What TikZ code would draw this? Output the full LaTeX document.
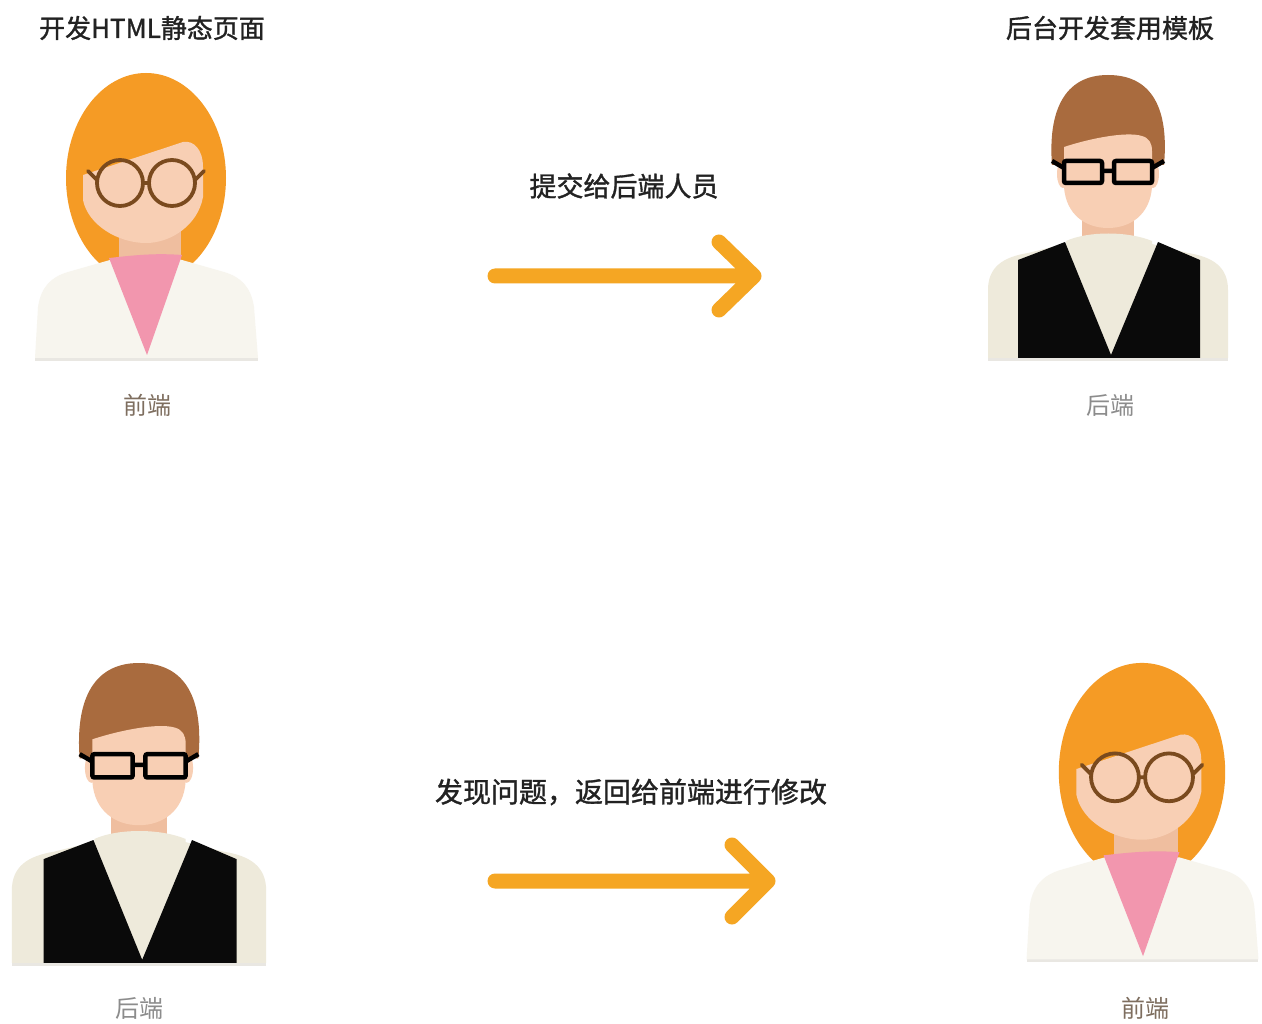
\documentclass[tikz,border=0pt]{standalone}
\usepackage{fontspec}
\setmainfont{Noto Sans CJK SC}
\newfontfamily\captionfont{Noto Sans CJK SC}[FakeBold=1.2]
\definecolor{hairO}{HTML}{F59B25}
\definecolor{hairB}{HTML}{A96B3E}
\definecolor{skin}{HTML}{F8CFB4}
\definecolor{neckC}{HTML}{EFBE9F}
\definecolor{pinkC}{HTML}{F296AE}
\definecolor{jacketW}{HTML}{F7F5EE}
\definecolor{shirtC}{HTML}{EEEADB}
\definecolor{vestC}{HTML}{0A0A0A}
\definecolor{brownG}{HTML}{7A4A1E}
\definecolor{arrowC}{HTML}{F5A623}
\definecolor{titleC}{HTML}{222222}
\definecolor{feC}{HTML}{7E6E5F}
\definecolor{beC}{HTML}{8C8C8C}
\definecolor{shadowC}{HTML}{E9E7E2}
\tikzset{
  ttl/.style={text=titleC, inner sep=0pt, font=\captionfont\fontsize{26}{32}\selectfont},
  lbl/.style={inner sep=0pt, font=\fontsize{24}{30}\selectfont},
  arr/.style={draw=arrowC, line width=15, line cap=round, line join=round},
  woman/.pic={
    % hair
    \fill[hairO] (0,103) ellipse [x radius=80, y radius=105];
    % neck
    \fill[neckC] (-27,140) rectangle (35,195);
    % face with fringe
    \fill[skin] (-63,100) -- (37,67) .. controls (48,65) and (57,75) .. (57,92)
      -- (57,122) .. controls (52,150) and (25,168) .. (0,168)
      .. controls (-28,168) and (-58,150) .. (-63,125) -- cycle;
    % jacket
    \fill[shadowC] (-111,281) rectangle (112,286);
    \fill[jacketW] (-111,283) -- (-108,232) .. controls (-105,212) and (-95,202) .. (-78,197)
      -- (-36,185) -- (36,185) -- (78,197) .. controls (95,202) and (105,212) .. (108,232)
      -- (112,283) -- cycle;
    % scarf
    \fill[pinkC] (-37,183) .. controls (-10,180) and (10,178) .. (36,180) -- (1,280) -- cycle;
    % round glasses
    \draw[brownG, line width=3.8] (-26,108) circle [radius=23] (26,108) circle [radius=23];
    \draw[brownG, line width=3.8, line cap=round] (-3,108) -- (3,108)
      (-49,105) -- (-58,96) (49,105) -- (58,96);
  },
  man/.pic={
    % neck
    \fill[neckC] (-26,130) rectangle (26,175);
    % ears
    \fill[skin] (-45,99) ellipse [x radius=6, y radius=14];
    \fill[skin] (45,99) ellipse [x radius=6, y radius=14];
    % hair
    \fill[hairB] (-56,90) .. controls (-60,38) and (-45,0) .. (0,0)
      .. controls (45,0) and (61,35) .. (56,90) -- cycle;
    % face
    \fill[skin] (-44,72) .. controls (-20,64) and (18,56) .. (34,61)
      .. controls (41,63) and (44,68) .. (44,76) -- (44,112)
      .. controls (42,140) and (22,153) .. (0,153)
      .. controls (-22,153) and (-42,140) .. (-44,112) -- cycle;
    % shirt
    \fill[shadowC] (-120,281) rectangle (120,286);
    \fill[shirtC] (-120,283) -- (-120,215) .. controls (-120,192) and (-105,182) .. (-80,178)
      -- (-40,168) -- (40,168) -- (80,178) .. controls (105,182) and (120,192) .. (120,215)
      -- (120,283) -- cycle;
    % collar
    \fill[shirtC] (-42,190) -- (-42,166) .. controls (-20,156) and (20,156) .. (44,166)
      -- (44,190) -- cycle;
    % vest
    \fill[vestC] (-90,185) -- (-43,167) -- (3,280) -- (50,167) -- (92,185)
      -- (92,283) -- (-90,283) -- cycle;
    % square glasses
    \draw[black, line width=4.5, rounded corners=2] (-44,86) rectangle (-6,108)
      (6,86) rectangle (44,108);
    \draw[black, line width=4.5] (-6,96) -- (6,96)
      (-44,93) -- (-56,86) (44,93) -- (56,86);
  }
}
\begin{document}
\begin{tikzpicture}[x=1pt, y=-1pt]
  \useasboundingbox (0,0) rectangle (1262,1024);
  \fill[white] (0,0) rectangle (1262,1024);

  % upper row
  \node[ttl] (t1) at (152,28) {开发HTML静态页面};
  \node[ttl] (t2) at (1110,28) {后台开发套用模板};
  \pic (fe1) at (146,75) {woman};
  \pic (be1) at (1108,75) {man};
  \node[lbl, text=feC] (l1) at (147,405) {前端};
  \node[lbl, text=beC] (l2) at (1110,405) {后端};
  \node[ttl, font=\captionfont\fontsize{27}{32}\selectfont] (m1) at (624,186) {提交给后端人员};
  \coordinate (a1s) at (495,276);
  \coordinate (a1e) at (754,276);
  \draw[arr] (a1s) -- (a1e) (a1e) ++(-35,-34) -- (a1e) -- ++(-35,34);

  % lower row
  \pic[scale=1.06] (be2) at (139,663) {man};
  \pic[scale=1.04] (fe2) at (1142,665) {woman};
  \node[lbl, text=beC] (l3) at (139,1008) {后端};
  \node[lbl, text=feC] (l4) at (1145,1008) {前端};
  \node[ttl, font=\captionfont\fontsize{28}{34}\selectfont] (m2) at (631,792) {发现问题，返回给前端进行修改};
  \coordinate (a2s) at (495,881);
  \coordinate (a2e) at (768,881);
  \draw[arr] (a2s) -- (a2e) (a2e) ++(-36,-36) -- (a2e) -- ++(-36,36);
\end{tikzpicture}
\end{document}
